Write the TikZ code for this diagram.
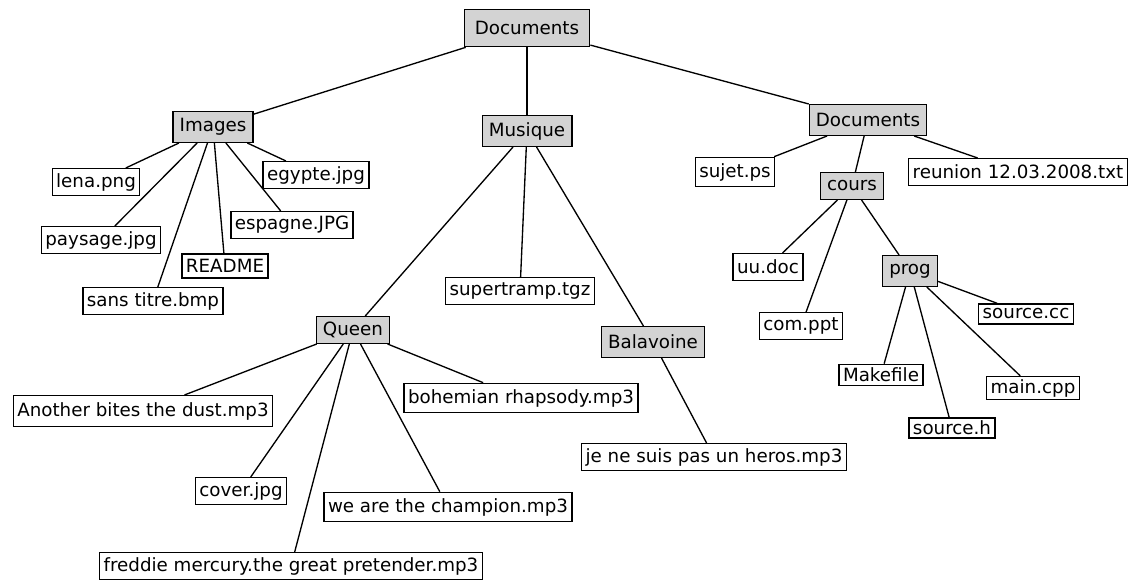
\documentclass[tikz,border=0pt]{standalone}
\usepackage{fontspec}
\setmainfont{DejaVu Sans}
\usepackage{xcolor}
\definecolor{dirgray}{RGB}{211,211,211}

\begin{document}
\begin{tikzpicture}[x=0.75pt, y=-0.75pt,
    file/.style={draw, line width=1pt, inner xsep=3pt, inner ysep=2pt, minimum height=20pt, font=\fontsize{13.7}{16}\selectfont},
    folder/.style={file, fill=dirgray, inner xsep=5pt, minimum height=23pt},
    link/.style={line width=1pt}]

    \useasboundingbox (0,0) rectangle (1133,580);

    % Draw folders
    \node (root) [folder, inner xsep=8pt, minimum height=28pt] at (527,28) {Documents};
    \node (images) [folder] at (213,127) {Images};
    \node (musique) [folder] at (527,131) {Musique};
    \node (docs) [folder] at (868,120) {Documents};
    \node (cours) [folder, minimum height=20pt] at (852,186) {cours};
    \node (prog) [folder] at (910,271) {prog};
    \node (queen) [folder, minimum height=20pt] at (353,330) {Queen};
    \node (balavoine) [folder] at (653,342) {Balavoine};

    % Draw files
    \node (lena) [file] at (96,182) {lena.png};
    \node (paysage) [file] at (101,240) {paysage.jpg};
    \node (sanstitre) [file] at (153,301) {sans titre.bmp};
    \node (readme) [file, minimum height=18pt] at (225,266) {README};
    \node (espagne) [file] at (292,225) {espagne.JPG};
    \node (egypte) [file] at (316,175) {egypte.jpg};
    \node (supertramp) [file] at (520,291) {supertramp.tgz};
    \node (sujet) [file, minimum height=22pt] at (735,172) {sujet.ps};
    \node (reunion) [file] at (1018,172) {reunion 12.03.2008.txt};
    \node (uudoc) [file] at (768,267) {uu.doc};
    \node (comppt) [file] at (801,326) {com.ppt};
    \node (sourcecc) [file, minimum height=15pt] at (1026,314) {source.cc};
    \node (makefile) [file, minimum height=16pt] at (881,375) {Makefile};
    \node (maincpp) [file, minimum height=16pt] at (1033,388) {main.cpp};
    \node (sourceh) [file, minimum height=15pt] at (952,428) {source.h};
    \node (another) [file, minimum height=23pt] at (143,411) {Another bites the dust.mp3};
    \node (bohemian) [file, minimum height=22pt] at (521,398) {bohemian rhapsody.mp3};
    \node (herosmp3) [file] at (714,457) {je ne suis pas un heros.mp3};
    \node (cover) [file] at (241,491) {cover.jpg};
    \node (champion) [file, minimum height=22pt] at (448,507) {we are the champion.mp3};
    \node (freddie) [file] at (291,566) {freddie mercury.the great pretender.mp3};

    % Draw links
    \draw[link] (root) -- (images);
    \draw[link] (root) -- (musique);
    \draw[link] (root) -- (docs);
    \draw[link] (images) -- (lena);
    \draw[link] (images) -- (paysage);
    \draw[link] (images) -- (sanstitre);
    \draw[link] (images) -- (readme);
    \draw[link] (images) -- (espagne);
    \draw[link] (images) -- (egypte);
    \draw[link] (musique) -- (queen);
    \draw[link] (musique) -- (supertramp);
    \draw[link] (musique) -- (balavoine);
    \draw[link] (queen) -- (another);
    \draw[link] (queen) -- (cover);
    \draw[link] (queen) -- (freddie);
    \draw[link] (queen) -- (champion);
    \draw[link] (queen) -- (bohemian);
    \draw[link] (balavoine) -- (herosmp3);
    \draw[link] (docs) -- (sujet);
    \draw[link] (docs) -- (cours);
    \draw[link] (docs) -- (reunion);
    \draw[link] (cours) -- (uudoc);
    \draw[link] (cours) -- (comppt);
    \draw[link] (cours) -- (prog);
    \draw[link] (prog) -- (makefile);
    \draw[link] (prog) -- (sourceh);
    \draw[link] (prog) -- (maincpp);
    \draw[link] (prog) -- (sourcecc);

\end{tikzpicture}
\end{document}
